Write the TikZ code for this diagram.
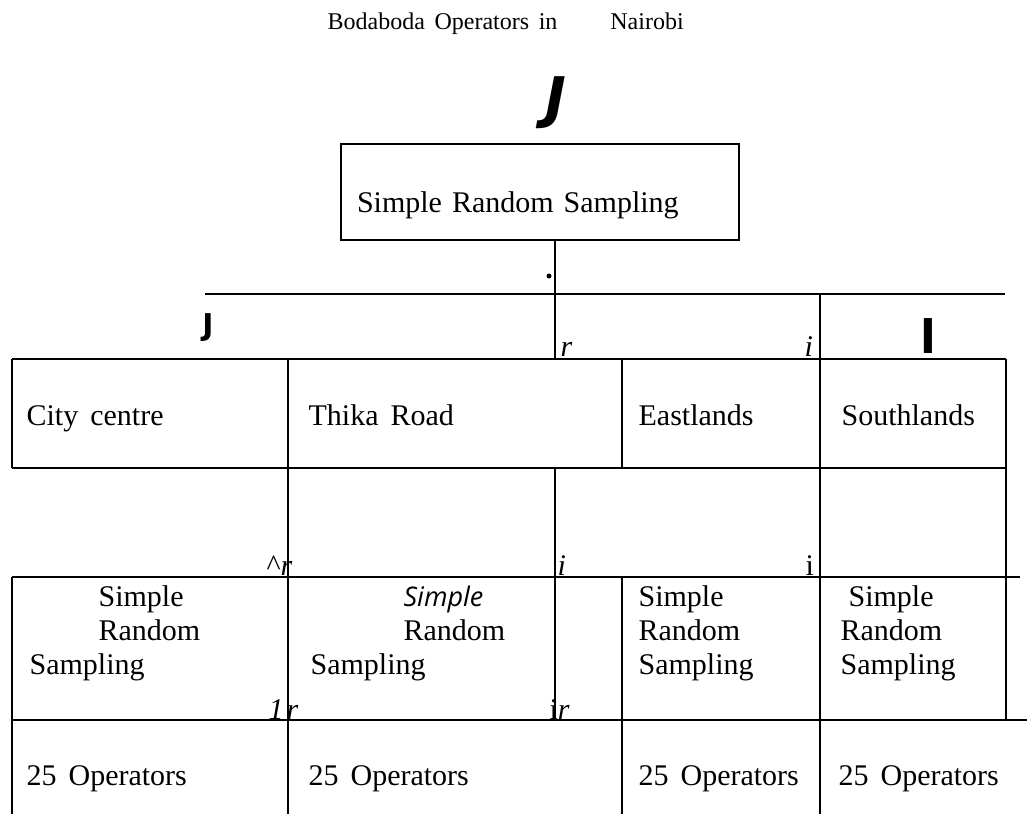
\documentclass[tikz,border=0pt]{standalone}
\usepackage{fontspec}
\setmainfont{Liberation Serif}[WordSpace=1.6]
\newfontfamily\glyphsans{DejaVu Sans}
\newfontfamily\humsans{Open Sans}
\usetikzlibrary{positioning}

\begin{document}
\begin{tikzpicture}[x=1pt, y=-1pt, line width=1.2pt,
      txt/.style={anchor=base west, inner sep=0pt, font=\fontsize{30}{34}\selectfont},
      stack/.style={txt, align=left},
      stray/.style={anchor=base west, inner sep=0pt, font=\fontsize{30}{34}\selectfont\itshape},
      glyph/.style={inner sep=0pt, font=\glyphsans},
      box/.style={draw, minimum width=398pt, minimum height=96pt, inner xsep=16pt,
        text width=366pt, align=left, text height=44pt, text depth=4pt,
        font=\fontsize{30}{34}\selectfont}]

      \useasboundingbox (0,0) rectangle (1027,814);

      \node[txt, font=\fontsize{24}{28}\selectfont] (title) at (327,29) {Bodaboda Operators in\hspace{53pt}Nairobi};
      \node[glyph, font=\glyphsans\bfseries\itshape\fontsize{56}{56}\selectfont] (bigJ) at (556,103) {J};

      \node[box] (srs) at (540,192) {Simple Random Sampling};

      % Branch from the top box
      \coordinate (hub) at (555,294);
      \draw (srs.south -| hub) -- (555,359);
      \node[circle, fill, inner sep=0pt, minimum size=5pt] (dot) at (549,276) {};
      \draw (205,294) -- (1005,294);
      \draw (820,294) -- (820,814);

      \node[glyph, font=\glyphsans\bfseries\fontsize{30}{30}\selectfont] (hookJ) at (208,328) {J};
      \node[glyph, font=\glyphsans\bfseries\fontsize{46}{46}\selectfont] (bar) at (928,336) {l};
      \node[stray] (markR) at (560,356) {r};
      \node[stray] (markI) at (804,356) {i};

      % Table lines
      \draw (12,359) -- (1006,359);
      \draw (12,468) -- (1006,468);
      \draw (12,577) -- (1020,577);
      \draw (12,720) -- (1027,720);
      \draw (12,359) -- (12,468) (12,577) -- (12,814);
      \draw (288,359) -- (288,814);
      \draw (622,359) -- (622,468) (622,577) -- (622,814);
      \draw (555,468) -- (555,720);
      \draw (1006,359) -- (1006,720);

      % Areas
      \node[txt] (city) at (26,425) {City centre};
      \node[txt] (thika) at (308,425) {Thika Road};
      \node[txt] (east) at (638,425) {Eastlands};
      \node[txt] (south) at (841,425) {Southlands};

      \node[stray] (markA) at (266,575) {\upshape\textasciicircum\itshape r};
      \node[stray] (markB) at (557,575) {i};
      \node[stray, font=\fontsize{30}{34}\selectfont] (markC) at (805,575) {i};

      % Sampling in each area
      \node[stack] (srsA) at (29,674) {\hspace*{69pt}Simple\\\hspace*{69pt}Random\\Sampling};
      \node[stack] (srsB) at (310,674) {\hspace*{93pt}{\humsans\itshape\fontsize{27}{34}\selectfont Simple}\\\hspace*{93pt}Random\\Sampling};
      \node[stack] (srsC) at (638,674) {Simple\\Random\\Sampling};
      \node[stack] (srsD) at (840,674) {\hspace*{8pt}Simple\\Random\\Sampling};

      \node[stray] (markD) at (268,719) {1\kern3pt r};
      \node[stray] (markE) at (549,719) {\upshape i\itshape r};

      \node[txt] (opsA) at (26,785) {25 Operators};
      \node[txt] (opsB) at (308,785) {25 Operators};
      \node[txt] (opsC) at (638,785) {25 Operators};
      \node[txt] (opsD) at (838,785) {25 Operators};
\end{tikzpicture}
\end{document}
